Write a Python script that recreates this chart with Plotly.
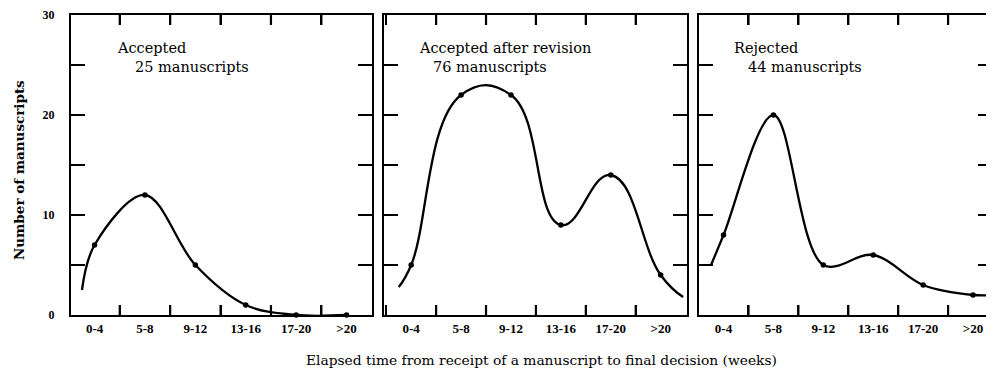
import plotly.graph_objects as go

# ---------------- data ----------------
categories = ["0-4", "5-8", "9-12", "13-16", "17-20", ">20"]
accepted = [7, 12, 5, 1, 0, 0]
accepted_after_revision = [5, 22, 22, 9, 14, 4]
rejected = [8, 20, 5, 6, 3, 2]

# value of the drawn curve where it starts (left of first point) / ends (right of last point)
curve_lead_in = [2.5, 2.8, 5.0]
curve_lead_out = [None, 1.8, 2.0]

panel_titles = ["Accepted", "Accepted after revision", "Rejected"]
panel_counts = ["25 manuscripts", "76 manuscripts", "44 manuscripts"]
y_tick_vals = [0, 10, 20, 30]

series = [accepted, accepted_after_revision, rejected]

# ---------------- layout geometry ----------------
# the page body adds an 8px margin, so the figure is 8px smaller and shifted
OFF = 8
W, H = 994 - OFF, 368 - OFF
domains = [((71 - OFF) / W, (373 - OFF) / W),
           ((385 - OFF) / W, (688 - OFF) / W),
           ((700 - OFF) / W, 1.0)]
x_ranges = [[-0.47, 5.51], [-0.54, 5.52], [-0.5, 5.38]]
smooth = [1.0, 1.3, 1.0]
title_pos = [(0.40, 0.76), (0.12, 0.39), (0.16, 0.46)]
XTICK_LEN = 10 / 300   # boundary tick length as a fraction of the plot height

serif = "DejaVu Serif"
tickserif = "Liberation Serif"
ink = "#000000"

fig = go.Figure()
idx = list(range(len(categories)))

for i, vals in enumerate(series):
    n = "" if i == 0 else str(i + 1)
    xa, ya = "x" + n, "y" + n
    xc = f"x{i + 4}"          # hidden linear twin axis for the smooth curve
    cx = [-0.25] + idx
    cy = [curve_lead_in[i]] + vals
    if curve_lead_out[i] is not None:
        cx = cx + [5.45]
        cy = cy + [curve_lead_out[i]]
    fig.add_trace(go.Scatter(
        x=cx, y=cy, mode="lines", xaxis=xc, yaxis=ya,
        line=dict(color=ink, width=2.3, shape="spline", smoothing=smooth[i]),
        hoverinfo="skip", showlegend=False, cliponaxis=True))
    fig.add_trace(go.Scatter(
        x=categories, y=vals, mode="markers", xaxis=xa, yaxis=ya,
        marker=dict(color=ink, size=7, line=dict(color="white", width=1.5)),
        showlegend=False, cliponaxis=False))

    ax_common = dict(showline=True, linewidth=2, linecolor=ink, mirror="allticks",
                     showgrid=False, zeroline=False)
    xaxis = dict(
        type="category", categoryorder="array", categoryarray=categories,
        domain=list(domains[i]), range=x_ranges[i], anchor=ya,
        tickson="boundaries", ticks="inside", ticklen=10, tickwidth=2.2, tickcolor=ink,
        tickfont=dict(family=tickserif, size=13, color=ink, weight="bold"),
        ticklabelstandoff=0,
        **ax_common)
    xcurve = dict(
        type="linear", overlaying=xa, anchor=ya, range=x_ranges[i],
        domain=list(domains[i]), visible=False)
    yaxis = dict(
        domain=[0, 1], range=[0, 30], anchor=xa,
        tickmode="array", tickvals=y_tick_vals,
        ticktext=[str(v) for v in y_tick_vals] if i == 0 else [""] * len(y_tick_vals),
        ticks="inside", ticklen=14, tickwidth=2, tickcolor=ink,
        minor=dict(tickmode="array", tickvals=[5, 15, 25],
                   ticks="inside", ticklen=9, tickwidth=2, tickcolor=ink),
        tickfont=dict(family=tickserif, size=12, color=ink, weight="bold"),
        ticklabelstandoff=12 if i == 0 else 0,
        **ax_common)
    fig.update_layout({"xaxis" + n: xaxis, f"xaxis{i + 4}": xcurve, "yaxis" + n: yaxis})

    # boundary tick marks between categories, at the bottom and top edges
    for k in idx[:-1]:
        for y0, y1 in ((0, XTICK_LEN), (1 - XTICK_LEN, 1)):
            fig.add_shape(type="line", xref=xa, yref=f"{ya} domain",
                          x0=k + 0.5, x1=k + 0.5, y0=y0, y1=y1, layer="above",
                          line=dict(color=ink, width=2.2))

    fig.add_annotation(text=panel_titles[i], x=title_pos[i][0], y=26.7,
                       xref=xc, yref=ya, xanchor="left", yanchor="middle",
                       showarrow=False, font=dict(family=serif, size=14.5, color=ink))
    fig.add_annotation(text=panel_counts[i], x=title_pos[i][1], y=24.8,
                       xref=xc, yref=ya, xanchor="left", yanchor="middle",
                       showarrow=False, font=dict(family=serif, size=14.5, color=ink))

fig.add_annotation(text="Elapsed time from receipt of a manuscript to final decision (weeks)",
                   x=(543 - OFF) / W, y=-0.15, xref="paper", yref="paper",
                   xanchor="center", yanchor="middle", showarrow=False,
                   font=dict(family=serif, size=13.8, color=ink))
fig.add_annotation(text="Number of manuscripts", textangle=-90,
                   x=(19 - OFF) / W, y=0.483, xref="paper", yref="paper",
                   xanchor="center", yanchor="middle", showarrow=False,
                   font=dict(family=serif, size=13.5, color=ink, weight="bold"))

fig.update_layout(width=W, height=H, margin=dict(l=0, r=0, t=15 - OFF, b=53),
                  paper_bgcolor="white", plot_bgcolor="white", showlegend=False)

fig.write_html("out.html")
